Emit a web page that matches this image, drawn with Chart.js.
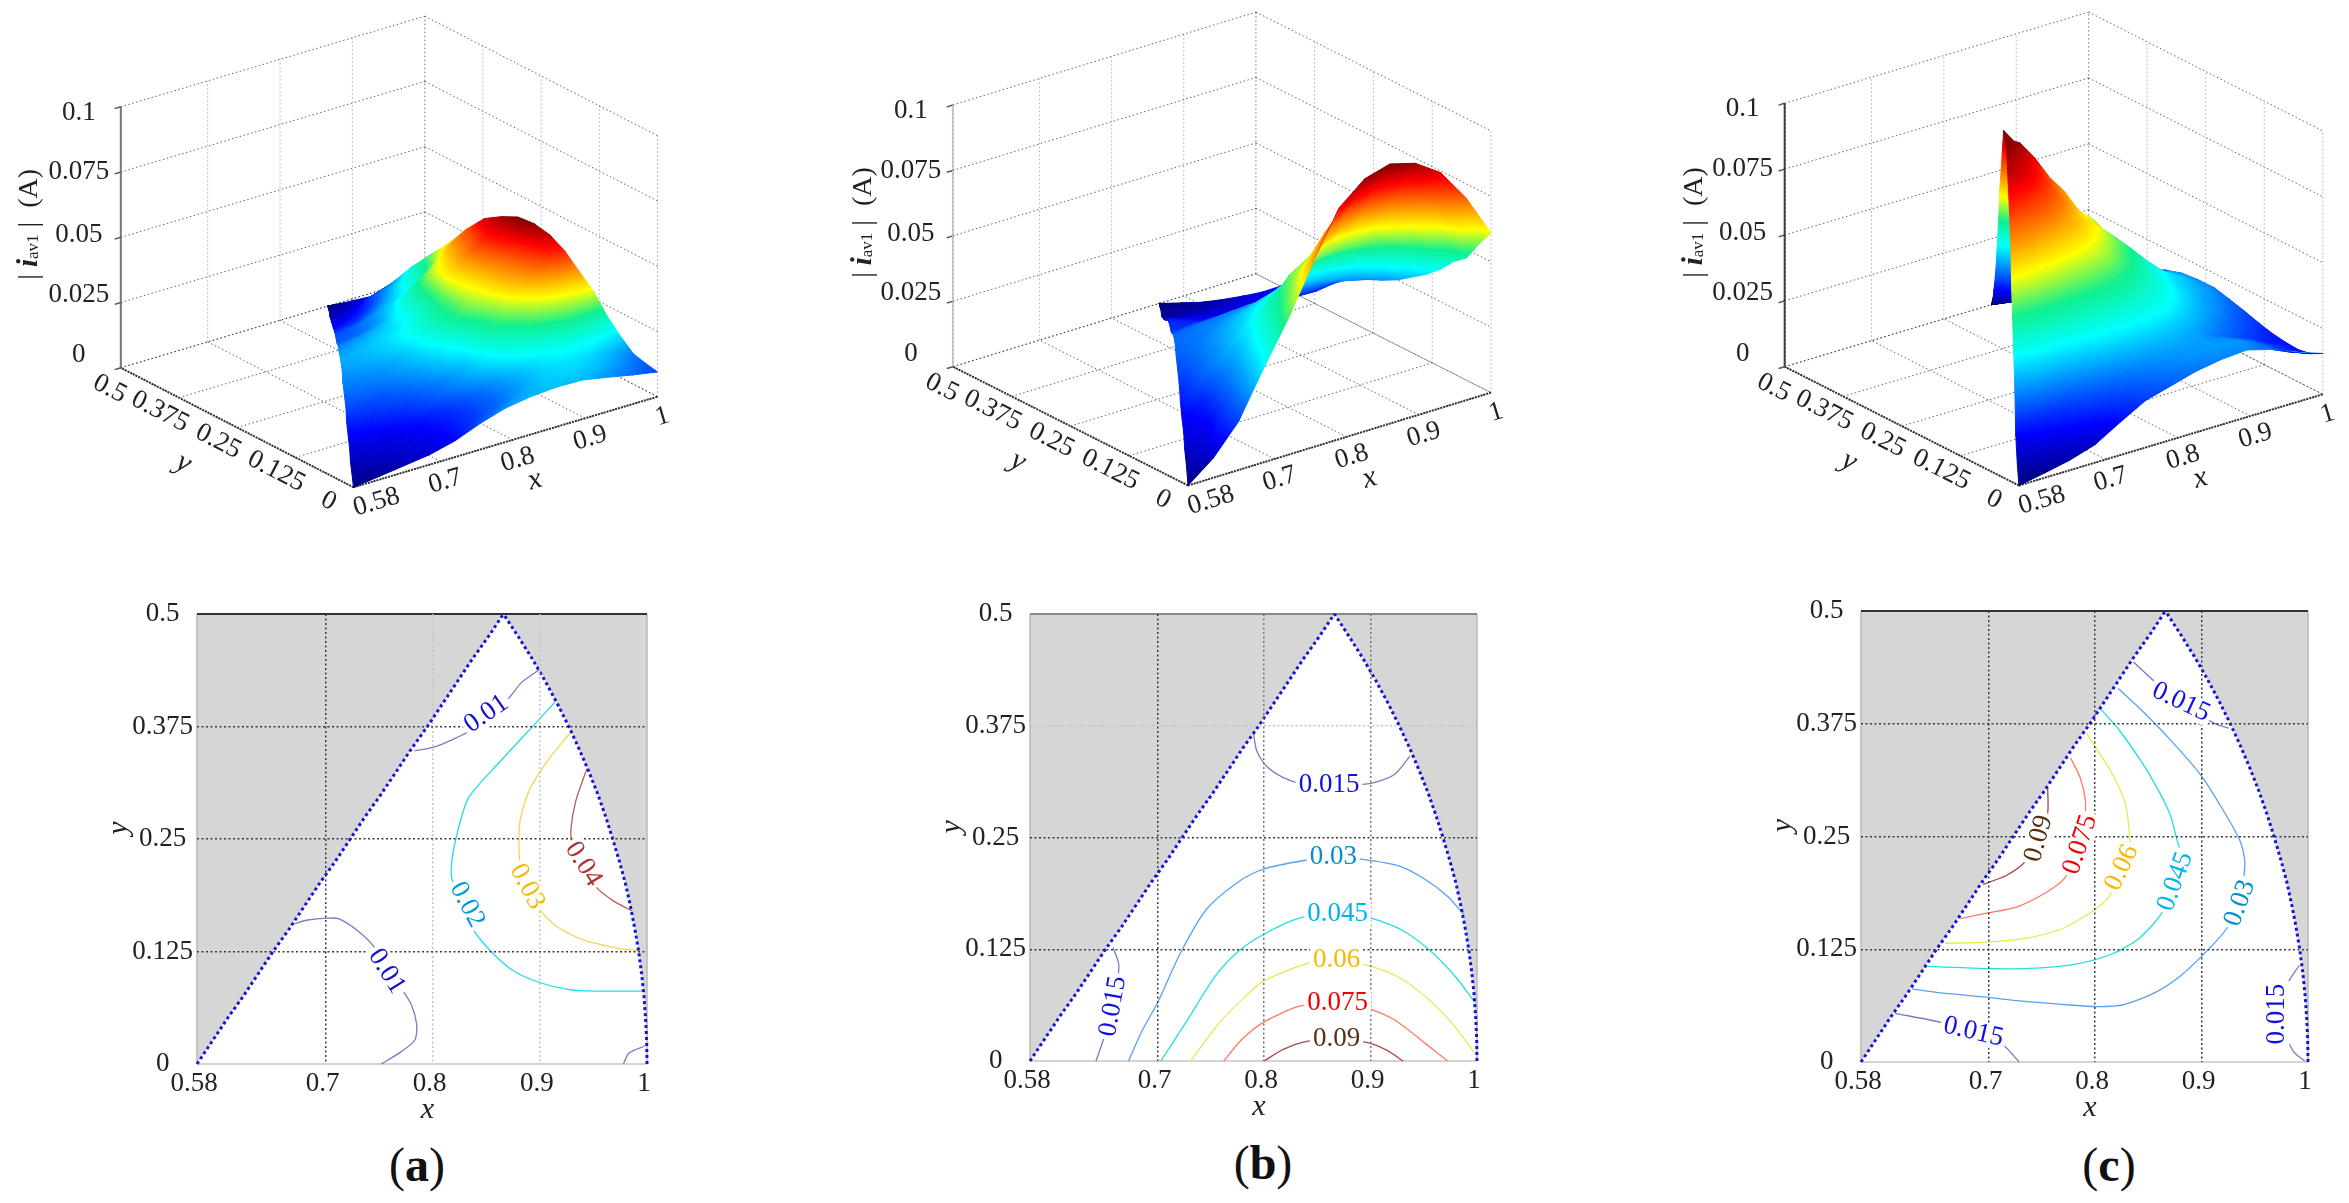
<!DOCTYPE html>
<html lang="en">
<head>
    <meta charset="UTF-8">
    <title>Average current surfaces and contours</title>
    <script src="https://cdn.jsdelivr.net/npm/chart.js@4"></script>
    <style>
        html, body { margin: 0; background: #fff; width: 2349px; height: 1203px; overflow: hidden; }
        canvas { position: absolute; }
        .cap { position: absolute; font: 48px "Liberation Serif", serif; transform: translate(-50%, -50%); color: #111; }
    </style>
</head>
<body>
    <div class="cap" style="left:417px; top:1164px">(<b>a</b>)</div>
    <div class="cap" style="left:1263px; top:1162px">(<b>b</b>)</div>
    <div class="cap" style="left:2109px; top:1164px">(<b>c</b>)</div>
    <script>
        const xTicks = [0.58, 0.7, 0.8, 0.9, 1];
        const yTicks = [0, 0.125, 0.25, 0.375, 0.5];
        const zTicks = [0, 0.025, 0.05, 0.075, 0.1];

        // domain edges, one row per meshY value
        const meshY = [0, 0.025, 0.05, 0.075, 0.1, 0.125, 0.15, 0.175, 0.2, 0.225, 0.25, 0.275, 0.3, 0.325, 0.35, 0.375, 0.4, 0.425, 0.45, 0.475, 0.5];
        const meshLeft = [0.58, 0.594, 0.608, 0.623, 0.637, 0.651, 0.666, 0.68, 0.694, 0.709, 0.723, 0.737, 0.752, 0.766, 0.78, 0.795, 0.809, 0.823, 0.837, 0.852, 0.866];
        const meshRight = [1, 0.9997, 0.9987, 0.9972, 0.995, 0.9922, 0.9887, 0.9846, 0.98, 0.9743, 0.968, 0.9614, 0.954, 0.9457, 0.9367, 0.927, 0.9165, 0.9052, 0.893, 0.8798, 0.866];

        // surface heights, 13 columns from left edge to right edge of each row
        const surfaceA = [
            [0, 0.0012, 0.0025, 0.0038, 0.0062, 0.01, 0.013, 0.0145, 0.0152, 0.015, 0.0132, 0.0112, 0.0095],
            [0.0015, 0.0025, 0.0035, 0.0048, 0.0065, 0.0088, 0.0112, 0.014, 0.0158, 0.0162, 0.0152, 0.013, 0.0105],
            [0.0028, 0.0036, 0.0045, 0.0054, 0.0068, 0.0088, 0.0108, 0.0135, 0.0158, 0.017, 0.0168, 0.0148, 0.012],
            [0.0042, 0.0048, 0.0056, 0.0066, 0.008, 0.0098, 0.0118, 0.0145, 0.0168, 0.0185, 0.0192, 0.0185, 0.0165],
            [0.0058, 0.0065, 0.0073, 0.0084, 0.0102, 0.0122, 0.0145, 0.0172, 0.0198, 0.0215, 0.0232, 0.0232, 0.022],
            [0.0075, 0.0082, 0.0091, 0.0098, 0.0112, 0.0132, 0.0158, 0.0195, 0.0225, 0.0255, 0.0275, 0.029, 0.0295],
            [0.0095, 0.0099, 0.0101, 0.0115, 0.0132, 0.0155, 0.0178, 0.0222, 0.0255, 0.0285, 0.0318, 0.034, 0.035],
            [0.011, 0.0115, 0.012, 0.0132, 0.0148, 0.017, 0.02, 0.0235, 0.027, 0.0315, 0.0355, 0.0392, 0.041],
            [0.0122, 0.0126, 0.0132, 0.0142, 0.016, 0.0188, 0.0225, 0.0258, 0.0292, 0.0332, 0.0368, 0.041, 0.0453],
            [0.0135, 0.014, 0.0148, 0.016, 0.0178, 0.0202, 0.023, 0.026, 0.0302, 0.0338, 0.0375, 0.0418, 0.0478],
            [0.0142, 0.0148, 0.0155, 0.0165, 0.018, 0.0198, 0.0225, 0.026, 0.0308, 0.0345, 0.0385, 0.043, 0.0486],
            [0.0135, 0.014, 0.0148, 0.0158, 0.0168, 0.0185, 0.0215, 0.0255, 0.0312, 0.0348, 0.0388, 0.0428, 0.047],
            [0.0122, 0.0128, 0.0135, 0.0145, 0.0158, 0.0188, 0.0215, 0.025, 0.0295, 0.0325, 0.0358, 0.0392, 0.0446],
            [0.0102, 0.0105, 0.0112, 0.0122, 0.0138, 0.0165, 0.02, 0.0228, 0.026, 0.0292, 0.0328, 0.0362, 0.039],
            [0.0098, 0.0101, 0.0108, 0.0118, 0.013, 0.0145, 0.016, 0.0178, 0.0198, 0.0222, 0.0255, 0.0298, 0.032],
            [0.0075, 0.008, 0.0085, 0.009, 0.0102, 0.0115, 0.0132, 0.015, 0.0172, 0.0198, 0.0218, 0.0238, 0.026],
            [0.0058, 0.006, 0.0065, 0.007, 0.0075, 0.0085, 0.0097, 0.0112, 0.0128, 0.0145, 0.016, 0.018, 0.0198],
            [0.0042, 0.0044, 0.0046, 0.005, 0.0055, 0.0062, 0.007, 0.008, 0.0092, 0.0102, 0.0108, 0.0115, 0.0122],
            [0.0028, 0.0029, 0.003, 0.0031, 0.0032, 0.0034, 0.0036, 0.0038, 0.0041, 0.0045, 0.005, 0.0055, 0.006],
            [0.0014, 0.0014, 0.0015, 0.0015, 0.0016, 0.0017, 0.0018, 0.0019, 0.002, 0.0022, 0.0024, 0.0026, 0.0029],
            [0, 0, 0, 0, 0, 0, 0, 0, 0, 0, 0, 0, 0]
        ];
        const surfaceB = [
            [0, 0.0075, 0.0185, 0.036, 0.0525, 0.0715, 0.0885, 0.0965, 0.0992, 0.0965, 0.09, 0.0775, 0.061],
            [0.0045, 0.0105, 0.0207, 0.0355, 0.0513, 0.067, 0.08, 0.0865, 0.09, 0.0875, 0.0785, 0.0655, 0.0545],
            [0.007, 0.0105, 0.0218, 0.0347, 0.0485, 0.062, 0.0735, 0.079, 0.081, 0.0785, 0.0705, 0.0605, 0.047],
            [0.0095, 0.0135, 0.0235, 0.035, 0.047, 0.0575, 0.0645, 0.0695, 0.072, 0.0695, 0.0625, 0.0525, 0.0435],
            [0.0115, 0.0155, 0.0245, 0.0335, 0.0445, 0.054, 0.0592, 0.0625, 0.0635, 0.0615, 0.055, 0.048, 0.0385],
            [0.0145, 0.021, 0.0275, 0.034, 0.0415, 0.0475, 0.051, 0.0538, 0.0545, 0.0532, 0.0495, 0.043, 0.0345],
            [0.0165, 0.022, 0.027, 0.0322, 0.0375, 0.0425, 0.0462, 0.0485, 0.049, 0.0478, 0.0437, 0.0372, 0.0315],
            [0.0195, 0.023, 0.027, 0.031, 0.0345, 0.0375, 0.04, 0.042, 0.0425, 0.041, 0.0385, 0.034, 0.0285],
            [0.0215, 0.0235, 0.0262, 0.0288, 0.0315, 0.0335, 0.0355, 0.037, 0.037, 0.036, 0.0335, 0.0298, 0.0265],
            [0.0225, 0.0238, 0.025, 0.0265, 0.028, 0.029, 0.03, 0.0305, 0.0305, 0.03, 0.0285, 0.0265, 0.025],
            [0.0225, 0.0232, 0.024, 0.0245, 0.025, 0.0254, 0.0256, 0.0257, 0.0257, 0.0255, 0.025, 0.0243, 0.0235],
            [0.02, 0.0205, 0.0208, 0.021, 0.021, 0.0209, 0.0208, 0.0207, 0.0206, 0.0205, 0.0204, 0.0202, 0.02],
            [0.0172, 0.0172, 0.017, 0.0168, 0.0165, 0.0162, 0.016, 0.0158, 0.0158, 0.0158, 0.0158, 0.0157, 0.0155],
            [0.0165, 0.016, 0.015, 0.014, 0.0132, 0.0128, 0.0125, 0.0125, 0.0127, 0.0132, 0.014, 0.0148, 0.0152],
            [0.0148, 0.0138, 0.0128, 0.0118, 0.0111, 0.0107, 0.0105, 0.0104, 0.0105, 0.0109, 0.0118, 0.013, 0.0143],
            [0.011, 0.0104, 0.0098, 0.0093, 0.0089, 0.0086, 0.0085, 0.0084, 0.0085, 0.0088, 0.0092, 0.0098, 0.0105],
            [0.0075, 0.0072, 0.0069, 0.0066, 0.0064, 0.0062, 0.0062, 0.0062, 0.0062, 0.0064, 0.0067, 0.0071, 0.0076],
            [0.0045, 0.0044, 0.0043, 0.0042, 0.0042, 0.0042, 0.0042, 0.0042, 0.0043, 0.0044, 0.0046, 0.0048, 0.005],
            [0.002, 0.002, 0.0021, 0.0021, 0.0022, 0.0022, 0.0022, 0.0022, 0.0023, 0.0024, 0.0025, 0.0026, 0.0027],
            [0.001, 0.001, 0.001, 0.001, 0.001, 0.001, 0.001, 0.001, 0.001, 0.0011, 0.0012, 0.0012, 0.0013],
            [0, 0, 0, 0, 0, 0, 0, 0, 0, 0, 0, 0, 0]
        ];
        const surfaceC = [
            [0, 0.0018, 0.0038, 0.0068, 0.0125, 0.0178, 0.0205, 0.0232, 0.0248, 0.0255, 0.0228, 0.0188, 0.0155],
            [0.0048, 0.0085, 0.0115, 0.0143, 0.0172, 0.0208, 0.024, 0.0262, 0.0272, 0.0265, 0.0222, 0.0168, 0.0132],
            [0.0125, 0.0155, 0.018, 0.0205, 0.0232, 0.0258, 0.0275, 0.0278, 0.027, 0.025, 0.0215, 0.0168, 0.0125],
            [0.0255, 0.0297, 0.0305, 0.0318, 0.0341, 0.034, 0.0333, 0.0312, 0.0278, 0.0235, 0.0192, 0.0152, 0.0132],
            [0.042, 0.0438, 0.0445, 0.0447, 0.0445, 0.043, 0.041, 0.0375, 0.0315, 0.0265, 0.022, 0.018, 0.0145],
            [0.057, 0.0575, 0.0555, 0.0535, 0.052, 0.0495, 0.0458, 0.0405, 0.0355, 0.0298, 0.0255, 0.0205, 0.0165],
            [0.07, 0.0695, 0.0655, 0.063, 0.0595, 0.0555, 0.0495, 0.0438, 0.0378, 0.0325, 0.0275, 0.0235, 0.019],
            [0.0815, 0.0786, 0.076, 0.0703, 0.065, 0.059, 0.052, 0.0468, 0.0395, 0.034, 0.0298, 0.0265, 0.0215],
            [0.0915, 0.088, 0.081, 0.0755, 0.067, 0.0625, 0.0555, 0.0495, 0.0425, 0.0362, 0.032, 0.0278, 0.024],
            [0.0955, 0.0905, 0.084, 0.0765, 0.0695, 0.0615, 0.0555, 0.0495, 0.041, 0.0355, 0.0315, 0.0288, 0.0252],
            [0.0972, 0.094, 0.0865, 0.0775, 0.0705, 0.0615, 0.0565, 0.0485, 0.0415, 0.036, 0.0305, 0.0285, 0.026],
            [0.097, 0.09, 0.0825, 0.0745, 0.0675, 0.0595, 0.0525, 0.0455, 0.0385, 0.0335, 0.0298, 0.027, 0.0255],
            [0.0885, 0.0785, 0.0725, 0.0665, 0.0605, 0.0525, 0.0445, 0.0385, 0.0325, 0.0295, 0.027, 0.0255, 0.024],
            [0.0755, 0.0695, 0.063, 0.0565, 0.0505, 0.044, 0.0385, 0.0335, 0.029, 0.026, 0.0235, 0.0218, 0.021],
            [0.064, 0.0585, 0.0525, 0.0465, 0.0415, 0.0365, 0.032, 0.0285, 0.0245, 0.0215, 0.0195, 0.018, 0.0172],
            [0.0505, 0.0445, 0.0395, 0.035, 0.0308, 0.0275, 0.024, 0.0215, 0.019, 0.017, 0.0155, 0.0145, 0.0135],
            [0.0355, 0.031, 0.027, 0.0235, 0.0205, 0.0185, 0.0165, 0.015, 0.0135, 0.0122, 0.011, 0.0102, 0.0095],
            [0.0225, 0.02, 0.0178, 0.016, 0.0145, 0.0132, 0.012, 0.011, 0.0098, 0.0088, 0.008, 0.0074, 0.007],
            [0.0128, 0.0115, 0.0105, 0.0095, 0.0087, 0.008, 0.0073, 0.0067, 0.0061, 0.0056, 0.0051, 0.0047, 0.0044],
            [0.0062, 0.0056, 0.0051, 0.0047, 0.0043, 0.004, 0.0037, 0.0034, 0.0031, 0.0028, 0.0026, 0.0024, 0.0022],
            [0, 0, 0, 0, 0, 0, 0, 0, 0, 0, 0, 0, 0]
        ];

        // contour lines, [x, y] pairs
        const contourA = [
            [[0.783,0.348],[0.801,0.352],[0.823,0.363],[0.837,0.372],[0.85,0.389],[0.869,0.404],[0.883,0.424],[0.8995,0.438]],
            [[0.671,0.156],[0.6835,0.16],[0.701,0.162],[0.712,0.1615],[0.73,0.148],[0.746,0.129],[0.757,0.103],[0.771,0.083],[0.78,0.066],[0.785,0.044],[0.7835,0.027],[0.771,0.014],[0.752,0]],
            [[0.978,0],[0.983,0.012],[0.998,0.02]],
            [[0.914,0.402],[0.894,0.376],[0.862,0.335],[0.8335,0.296],[0.823,0.257],[0.818,0.2265],[0.818,0.205],[0.83,0.177],[0.837,0.151],[0.855,0.1245],[0.876,0.103],[0.901,0.09],[0.926,0.083],[0.951,0.081],[0.996,0.081]],
            [[0.928,0.3675],[0.9085,0.339],[0.8905,0.305],[0.8815,0.27],[0.8805,0.248],[0.8815,0.222],[0.889,0.198],[0.8995,0.172],[0.9155,0.153],[0.9405,0.138],[0.976,0.128],[0.992,0.126]],
            [[0.944,0.3285],[0.9335,0.292],[0.929,0.261],[0.9305,0.244],[0.9405,0.22],[0.953,0.196],[0.969,0.181],[0.986,0.17]]
        ];
        const contourB = [
            [[0.79,0.366],[0.793,0.347],[0.802,0.33],[0.818,0.317],[0.836,0.31],[0.861,0.309],[0.887,0.309],[0.905,0.312],[0.923,0.321],[0.937,0.341]],
            [[0.658,0.127],[0.6635,0.107],[0.658,0.061],[0.649,0.024],[0.642,0]],
            [[0.6725,0],[0.685,0.033],[0.701,0.068],[0.721,0.12],[0.746,0.17],[0.779,0.203],[0.8,0.215],[0.836,0.224],[0.865,0.2285],[0.89,0.226],[0.926,0.2185],[0.9515,0.203],[0.973,0.1835],[0.9875,0.164]],
            [[0.703,0],[0.728,0.046],[0.7535,0.094],[0.775,0.122],[0.8,0.142],[0.8325,0.1595],[0.869,0.164],[0.901,0.1595],[0.93,0.146],[0.955,0.1245],[0.98,0.094],[0.998,0.0655]],
            [[0.731,0],[0.757,0.0415],[0.782,0.072],[0.8,0.0896],[0.84,0.109],[0.868,0.1136],[0.8975,0.107],[0.926,0.094],[0.9515,0.072],[0.977,0.0415],[0.998,0.0087]],
            [[0.762,0],[0.779,0.024],[0.8,0.0437],[0.8327,0.061],[0.869,0.0655],[0.8975,0.059],[0.9227,0.0459],[0.9515,0.0197],[0.9724,0]],
            [[0.8,0],[0.818,0.013],[0.84,0.022],[0.868,0.025],[0.8975,0.0205],[0.9155,0.0118],[0.9306,0]]
        ];
        const contourC = [
            [[0.836,0.4434],[0.8557,0.422],[0.8807,0.399],[0.911,0.376],[0.9255,0.37]],
            [[0.8217,0.414],[0.8413,0.3927],[0.87,0.358],[0.9,0.317],[0.922,0.2758],[0.936,0.2455],[0.9405,0.2239],[0.94,0.2087],[0.936,0.176],[0.9237,0.148],[0.9058,0.124],[0.8807,0.096],[0.8557,0.0766],[0.827,0.0637],[0.8,0.0615],[0.7626,0.0645],[0.7268,0.068],[0.7017,0.0714],[0.655,0.0766],[0.628,0.081]],
            [[0.8055,0.391],[0.8234,0.3667],[0.8485,0.3235],[0.87,0.2758],[0.877,0.2455],[0.8797,0.2347],[0.8754,0.2],[0.8628,0.1654],[0.8413,0.137],[0.8163,0.12],[0.784,0.109],[0.7447,0.104],[0.7017,0.1035],[0.6427,0.106]],
            [[0.792,0.3646],[0.8,0.3494],[0.8163,0.319],[0.8288,0.2845],[0.8324,0.25],[0.8324,0.2369],[0.825,0.2152],[0.8127,0.1827],[0.798,0.1676],[0.7697,0.148],[0.734,0.137],[0.698,0.133],[0.6588,0.1316]],
            [[0.777,0.337],[0.786,0.315],[0.791,0.289],[0.79,0.269],[0.786,0.241],[0.7715,0.204],[0.7554,0.189],[0.7268,0.172],[0.698,0.165],[0.673,0.159]],
            [[0.7554,0.304],[0.7554,0.276],[0.747,0.2477],[0.734,0.2217],[0.716,0.2065],[0.6946,0.197]],
            [[0.612,0.054],[0.655,0.044],[0.6856,0.0333],[0.7125,0.02],[0.7286,0]],
            [[0.9917,0.107],[0.981,0.0875],[0.971,0.053],[0.9863,0.0117],[0.997,0.001]]
        ];
        const contourALevels = ['0.01', '0.01', '', '0.02', '0.03', '0.04'];
        const contourBLevels = ['0.015', '0.015', '0.03', '0.045', '0.06', '0.075', '0.09'];
        const contourCLevels = ['0.015', '0.03', '0.045', '0.06', '0.075', '0.09', '0.015', '0.015'];

        // where each level label sits on its line: x, y, rotation in degrees
        const labelsA = [[0.85,0.389,-35],[0.757,0.103,58],null,[0.832,0.177,62],[0.888,0.197,62],[0.9405,0.222,58]];
        const labelsB = [[0.861,0.309,0],[0.658,0.061,-80],[0.865,0.2285,0],[0.869,0.164,0],[0.868,0.1136,0],[0.869,0.0655,0],[0.868,0.025,0]];
        const labelsC = [[0.8807,0.399,25],[0.936,0.176,-70],[0.8754,0.2,-70],[0.825,0.2152,-65],[0.786,0.241,-72],[0.747,0.2477,-75],[0.6856,0.0333,13],[0.971,0.053,-90]];

        const lineColorsA = ['#7a7ac8','#7a7ac8','#7a7ac8','#20dcf0','#f7d450','#bc5a5a'];
        const textColorsA = ['#1010d0','#1010d0','#1010d0','#0098e0','#f5b800','#b03030'];
        const lineColorsB = ['#7a7ac8','#7a7ac8','#5aa0f0','#20e0e0','#e8e850','#ff7a60','#a84848'];
        const textColorsB = ['#1010e0','#1010e0','#0090d0','#00b4f0','#f8b800','#f00000','#583010'];
        const lineColorsC = ['#7a7ac8','#5aa0f0','#20e0e0','#e8e850','#ff7a60','#a84848','#7a7ac8','#7a7ac8'];
        const textColorsC = ['#1010e0','#0090d0','#00b4f0','#f8b800','#f00000','#583010','#1010e0','#1010e0'];

        const serif = '"Liberation Serif", serif';

        function drawText(ctx, text, x, y, font, color, deg) {
            ctx.save();
            ctx.translate(x, y);
            ctx.rotate((deg || 0) * Math.PI / 180);
            ctx.font = font;
            ctx.fillStyle = color;
            ctx.textAlign = 'center';
            ctx.textBaseline = 'middle';
            ctx.fillText(text, 0, 0);
            ctx.restore();
        }

        function jet(ctx, x0, y0, x1, y1) {
            const g = ctx.createLinearGradient(x0, y0, x1, y1);
            g.addColorStop(0, '#00007f');
            g.addColorStop(0.125, '#0000ff');
            g.addColorStop(0.375, '#00ffff');
            g.addColorStop(0.5, '#10f090');
            g.addColorStop(0.625, '#ffff00');
            g.addColorStop(0.875, '#ff0000');
            g.addColorStop(1, '#7f0000');
            return g;
        }

        function jetFlat(t) {
            const c = document.createElement('canvas').getContext('2d');
            const g = jet(c, 0, 0, 256, 0);
            c.canvas.width = 256; c.canvas.height = 1;
            c.fillStyle = g;
            c.fillRect(0, 0, 256, 1);
            const d = c.getImageData(Math.min(255, Math.max(0, Math.round(t * 255))), 0, 1, 1).data;
            return `rgb(${d[0]},${d[1]},${d[2]})`;
        }

        // one 3D panel: heights go through a fixed oblique view into the canvas pixel scale
        function surfacePanel(cfg) {
            const canvas = document.createElement('canvas');
            canvas.width = cfg.w; canvas.height = cfg.h;
            canvas.style.left = cfg.x + 'px';
            canvas.style.top = '0px';
            document.body.appendChild(canvas);
            const ctx = canvas.getContext('2d');

            const project = (x, y, z) => {
                const xf = (x - 0.58) / 0.42, yf = y / 0.5, zf = z / 0.1;
                return {
                    x: cfg.o[0] + xf * cfg.ex[0] + yf * cfg.ey[0],
                    y: cfg.o[1] + xf * cfg.ex[1] + yf * cfg.ey[1] + zf * cfg.ez
                };
            };
            const depth = (x, y, z) => -cfg.ex[1] * (x - 0.58) / 0.42 - cfg.ey[1] * y / 0.5 + cfg.ez * 0.25 * z / 0.1;

            const zMax = Math.max(...cfg.surface.flat());
            const nodes = cfg.surface.map((row, i) => row.map((z, j) => {
                const x = meshLeft[i] + (meshRight[i] - meshLeft[i]) * j / (row.length - 1);
                const p = project(x, meshY[i], z);
                return { x: p.x, y: p.y, t: z / zMax, d: depth(x, meshY[i], z) };
            }));

            const tris = [];
            for (let i = 0; i < nodes.length - 1; i++) {
                for (let j = 0; j < nodes[i].length - 1; j++) {
                    const a = nodes[i][j], b = nodes[i][j + 1], c = nodes[i + 1][j], e = nodes[i + 1][j + 1];
                    tris.push([a, b, e], [a, e, c]);
                }
            }
            // chart.js paints the last dataset first, so the nearest triangle goes first in the list
            tris.sort((p, q) => (p[0].d + p[1].d + p[2].d) - (q[0].d + q[1].d + q[2].d));

            const surfaceSets = tris.map(tri => {
                const [a, b, c] = tri;
                const det = (b.x - a.x) * (c.y - a.y) - (c.x - a.x) * (b.y - a.y);
                const gx = ((b.t - a.t) * (c.y - a.y) - (c.t - a.t) * (b.y - a.y)) / det;
                const gy = ((c.t - a.t) * (b.x - a.x) - (b.t - a.t) * (c.x - a.x)) / det;
                const g2 = gx * gx + gy * gy;
                let paint;
                if (Math.abs(det) < 0.5 || g2 < 1e-10) {
                    paint = jetFlat((a.t + b.t + c.t) / 3);
                } else {
                    paint = jet(ctx,
                        a.x - cfg.x - a.t * gx / g2, a.y - a.t * gy / g2,
                        a.x - cfg.x + (1 - a.t) * gx / g2, a.y + (1 - a.t) * gy / g2);
                }
                return {
                    data: [a, b, c, a].map(n => ({ x: n.x, y: n.y })),
                    showLine: true, fill: 'shape', pointRadius: 0,
                    backgroundColor: paint, borderColor: paint, borderWidth: 1, clip: false
                };
            });

            const seg = (p, q, color, dash, width) => ({
                data: [project(...p), project(...q)],
                showLine: true, pointRadius: 0, borderColor: color,
                borderDash: dash, borderWidth: width || 1, clip: false
            });
            const dots = [1.5, 2.5];
            const dark = 'rgba(50,50,50,0.75)', light = 'rgba(120,120,120,0.6)';
            const frame = [];
            zTicks.forEach(z => {
                frame.push(seg([0.58, 0.5, z], [1, 0.5, z], dark, dots));
                frame.push(seg([1, 0.5, z], [1, 0, z], dark, dots));
            });
            xTicks.forEach(x => {
                frame.push(seg([x, 0.5, 0], [x, 0.5, 0.1], light, dots));
                frame.push(seg([x, 0, 0], [x, 0.5, 0], dark, dots));
            });
            yTicks.forEach(y => {
                frame.push(seg([1, y, 0], [1, y, 0.1], light, dots));
                frame.push(seg([0.58, y, 0], [1, y, 0], dark, dots));
            });
            frame.push(seg([0.58, 0.5, 0], [0.58, 0.5, 0.1], cfg.zAxisColor, [], 2));
            frame.push(seg([0.58, 0, 0], [1, 0, 0], '#333', [2, 1], 2));
            frame.push(seg([0.58, 0, 0], [0.58, 0.5, 0], '#333', [2, 1], 2));
            zTicks.forEach(z => frame.push(seg([0.58, 0.5, z], [0.5715, 0.5, z], '#555', [], 1.5)));

            const textPlugin = {
                id: 'surfaceText',
                afterDraw(chart) {
                    const c = chart.ctx;
                    const at = (x, y, z) => { const p = project(x, y, z); return [p.x - cfg.x, p.y]; };
                    const font = `27px ${serif}`, ink = '#222';
                    const xRot = Math.atan2(cfg.ex[1], cfg.ex[0]) * 180 / Math.PI;
                    const yRot = Math.atan2(-cfg.ey[1], -cfg.ey[0]) * 180 / Math.PI;
                    xTicks.forEach((v, i) => {
                        const [px, py] = at(v, 0, 0);
                        const off = i === 0 ? [23, 15] : [5, 20];
                        drawText(c, String(v), px + off[0], py + off[1], font, ink, xRot);
                    });
                    yTicks.forEach((v, i) => {
                        const [px, py] = at(0.58, v, 0);
                        const off = i === 0 ? [-25, 14] : i === yTicks.length - 1 ? [-11, 21] : [-19, 14];
                        drawText(c, String(v), px + off[0], py + off[1], font, ink, yRot);
                    });
                    const zShift = [-13, -8, -2, 0, 6];
                    zTicks.forEach((v, i) => {
                        const [px, py] = at(0.58, 0.5, v);
                        drawText(c, String(v), px - 42, py + zShift[i], font, ink, 0);
                    });
                    const ox = cfg.o[0] - cfg.x, oy = cfg.o[1];
                    drawText(c, 'x', ox + 181.5, oy - 7, `italic 30px ${serif}`, ink, xRot);
                    drawText(c, 'y', ox - 170, oy - 24, `italic 30px ${serif}`, ink, yRot);

                    // rotated |i_av1| (A) title
                    c.save();
                    c.translate(ox - 324, oy - 263);
                    c.rotate(-Math.PI / 2);
                    c.fillStyle = ink;
                    c.textBaseline = 'middle';
                    const parts = [
                        ['| ', `28px ${serif}`, 0],
                        ['i', `italic bold 29px ${serif}`, 0],
                        ['av1', `17px ${serif}`, 4],
                        [' |  (A)', `28px ${serif}`, 0]
                    ];
                    let total = 0;
                    parts.forEach(p => { c.font = p[1]; total += c.measureText(p[0]).width; });
                    let cursor = -total / 2;
                    parts.forEach(p => {
                        c.font = p[1];
                        c.fillText(p[0], cursor, p[2]);
                        cursor += c.measureText(p[0]).width;
                    });
                    c.restore();
                }
            };

            new Chart(canvas, {
                type: 'scatter',
                data: { datasets: [...surfaceSets, ...frame] },
                options: {
                    responsive: false, animation: false, events: [],
                    layout: { padding: 0 },
                    plugins: { legend: { display: false }, tooltip: { enabled: false } },
                    scales: {
                        x: { type: 'linear', display: false, min: cfg.x, max: cfg.x + cfg.w },
                        y: { type: 'linear', display: false, min: 0, max: cfg.h, reverse: true }
                    }
                },
                plugins: [textPlugin]
            });
        }

        // one contour panel
        function contourPanel(cfg) {
            const canvas = document.createElement('canvas');
            const padL = 90, padT = 30, padR = 40, padB = 80;
            canvas.width = cfg.right - cfg.left + padL + padR;
            canvas.height = cfg.bottom - cfg.top + padT + padB;
            canvas.style.left = (cfg.left - padL) + 'px';
            canvas.style.top = (cfg.top - padT) + 'px';
            document.body.appendChild(canvas);

            const leftEdge = meshY.map((y, i) => ({ x: meshLeft[i], y }));
            const rightEdge = meshY.map((y, i) => ({ x: meshRight[i], y }));
            const line = (pts, color, width, dash) => ({
                data: pts, showLine: true, pointRadius: 0, borderColor: color,
                borderWidth: width, borderDash: dash || [], clip: false
            });
            const patch = pts => ({
                data: pts, showLine: true, fill: 'shape', pointRadius: 0,
                backgroundColor: '#d6d6d6', borderWidth: 0
            });

            const datasets = [
                line(leftEdge, '#1414d8', 3, [3, 3]),
                line(rightEdge, '#1414d8', 3, [3, 3]),
                ...cfg.lines.map((pts, i) => ({
                    ...line(pts.map(p => ({ x: p[0], y: p[1] })), cfg.lineColors[i], 1.3), tension: 0.25
                })),
                line([{ x: 0.58, y: 0.5 }, { x: 1, y: 0.5 }], cfg.topColor, 2),
                line([{ x: 1, y: 0.5 }, { x: 1, y: 0 }], '#b8b8b8', 1.5),
                line([{ x: 0.58, y: 0 }, { x: 0.58, y: 0.5 }], '#b8b8b8', 1.5),
                line([{ x: 0.58, y: 0 }, { x: 1, y: 0 }], '#c4c4c4', 1.5),
                patch([...leftEdge, { x: 0.58, y: 0.5 }]),
                patch([...rightEdge, { x: 1, y: 0.5 }])
            ];

            const textPlugin = {
                id: 'contourText',
                afterDraw(chart) {
                    const c = chart.ctx, sx = chart.scales.x, sy = chart.scales.y;
                    const font = `27px ${serif}`;
                    cfg.labels.forEach((at, i) => {
                        if (!at) return;
                        const px = sx.getPixelForValue(at[0]), py = sy.getPixelForValue(at[1]);
                        c.save();
                        c.translate(px, py);
                        c.rotate(at[2] * Math.PI / 180);
                        c.font = font;
                        const w = c.measureText(cfg.levels[i]).width + 6;
                        c.fillStyle = '#fff';
                        c.fillRect(-w / 2, -12, w, 24);
                        c.restore();
                        drawText(c, cfg.levels[i], px, py, font, cfg.textColors[i], at[2]);
                    });
                    drawText(c, 'x', sx.getPixelForValue(0.795), chart.chartArea.bottom + 46, `italic 30px ${serif}`, '#222', 0);
                    drawText(c, 'y', chart.chartArea.left - 78, sy.getPixelForValue(0.262), `italic 30px ${serif}`, '#222', -90);
                }
            };

            new Chart(canvas, {
                type: 'scatter',
                data: { datasets },
                options: {
                    responsive: false, animation: false, events: [],
                    layout: { padding: { left: 0, top: padT, right: padR, bottom: 0 } },
                    plugins: { legend: { display: false }, tooltip: { enabled: false } },
                    scales: {
                        x: {
                            type: 'linear', min: 0.58, max: 1,
                            afterBuildTicks: s => { s.ticks = xTicks.map(value => ({ value })); },
                            afterFit: s => { s.height = padB; },
                            grid: {
                                z: 1, drawTicks: false, lineWidth: 1.5,
                                color: c => cfg.gridX[xTicks.indexOf(c.tick.value)]
                            },
                            border: { display: false, dash: [2, 2.5] },
                            ticks: {
                                padding: 4, autoSkip: false, maxRotation: 0, color: '#222', labelOffset: -3,
                                font: { family: 'Liberation Serif', size: 27 },
                                callback: v => String(v)
                            }
                        },
                        y: {
                            type: 'linear', min: 0, max: 0.5,
                            afterBuildTicks: s => { s.ticks = yTicks.map(value => ({ value })); },
                            afterFit: s => { s.width = padL; },
                            grid: {
                                z: 1, drawTicks: false, lineWidth: 1.5,
                                color: c => cfg.gridY[yTicks.indexOf(c.tick.value)]
                            },
                            border: { display: false, dash: [2, 2.5] },
                            ticks: {
                                padding: 4, crossAlign: 'center', color: '#222',
                                font: { family: 'Liberation Serif', size: 27 },
                                callback: v => String(v)
                            }
                        }
                    }
                },
                plugins: [textPlugin]
            });
        }

        const none = 'rgba(0,0,0,0)', gridDark = '#3a3a3a', gridMid = '#777', gridPale = '#c4c4c4';

        surfacePanel({ surface: surfaceA, x: 0, w: 780, h: 560, o: [353.5, 487.3], ex: [304, -90.6], ey: [-232.7, -119.5], ez: -261, zAxisColor: '#777' });
        surfacePanel({ surface: surfaceB, x: 780, w: 840, h: 560, o: [1188, 485.5], ex: [303, -92.9], ey: [-235.1, -118.8], ez: -261.7, zAxisColor: '#ccc' });
        surfacePanel({ surface: surfaceC, x: 1620, w: 729, h: 560, o: [2018.9, 485.5], ex: [303.9, -91.2], ey: [-234.2, -118.8], ez: -263.4, zAxisColor: '#333' });

        contourPanel({
            left: 197, right: 647, top: 613.5, bottom: 1064, lines: contourA, levels: contourALevels, labels: labelsA,
            lineColors: lineColorsA, textColors: textColorsA, topColor: '#333',
            gridX: [none, gridDark, gridPale, gridPale, none], gridY: [none, gridDark, gridDark, gridDark, none]
        });
        contourPanel({
            left: 1030, right: 1477, top: 613.5, bottom: 1061, lines: contourB, levels: contourBLevels, labels: labelsB,
            lineColors: lineColorsB, textColors: textColorsB, topColor: '#888',
            gridX: [none, gridDark, gridMid, gridMid, none], gridY: [none, gridDark, gridDark, gridPale, none]
        });
        contourPanel({
            left: 1861, right: 2308, top: 611, bottom: 1062, lines: contourC, levels: contourCLevels, labels: labelsC,
            lineColors: lineColorsC, textColors: textColorsC, topColor: '#333',
            gridX: [none, gridDark, gridDark, gridDark, none], gridY: [none, gridDark, gridDark, gridDark, none]
        });
    </script>
</body>
</html>
